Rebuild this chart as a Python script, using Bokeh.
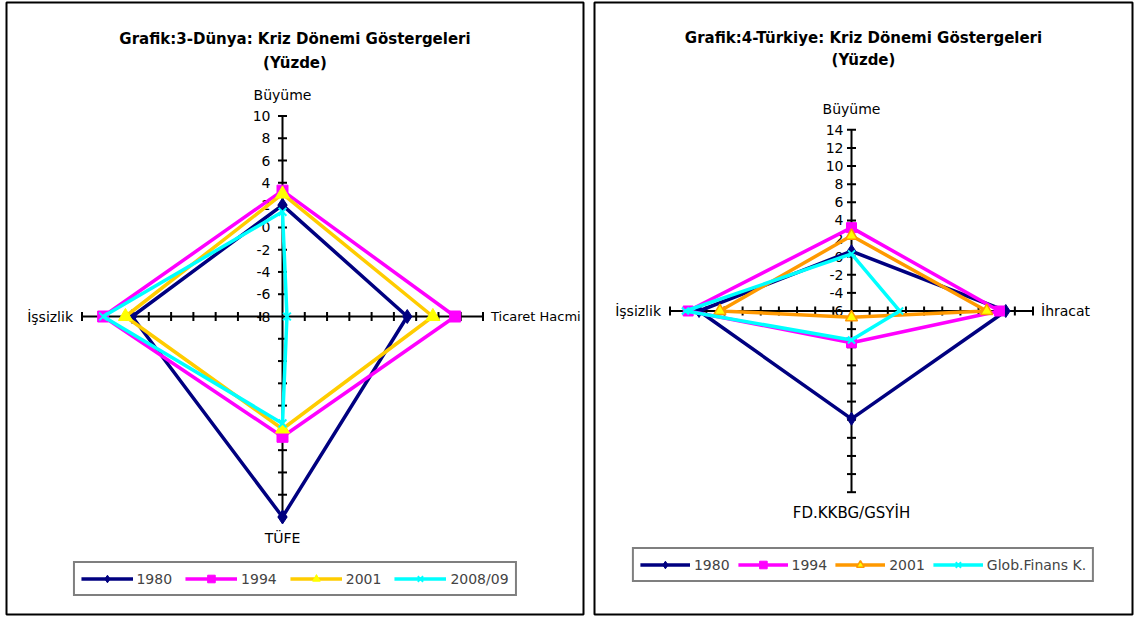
import math
from bokeh.plotting import figure
from bokeh.models import Range1d, Legend, LegendItem
from bokeh.layouts import row
from bokeh.embed import file_html
from bokeh.resources import INLINE
from bokeh.core.properties import value

FONT = "DejaVu Sans"

# ---------------- Grafik 3 : Dünya ----------------
world_title = ["Grafik:3-Dünya: Kriz Dönemi Göstergeleri", "(Yüzde)"]
world_axes = ["Büyüme", "Ticaret Hacmi", "TÜFE", "İşsizlik"]
world_names = ["1980", "1994", "2001", "2008/09"]
world_1980 = [2.0, 3.2, 10.0, 5.5]
world_1994 = [3.3, 7.5, 2.8, 8.1]
world_2001 = [3.0, 5.5, 2.1, 6.1]
world_2008 = [1.4, -7.6, 1.6, 8.1]
world_ticks = [-8, -6, -4, -2, 0, 2, 4, 6, 8, 10]

# ---------------- Grafik 4 : Türkiye ----------------
tr_title = ["Grafik:4-Türkiye: Kriz Dönemi Göstergeleri", "(Yüzde)"]
tr_axes = ["Büyüme", "İhracat", "FD.KKBG/GSYİH", "İşsizlik"]
tr_names = ["1980", "1994", "2001", "Glob.Finans K."]
tr_1980 = [0.6, 11.0, 5.9, 10.8]
tr_1994 = [3.2, 10.3, -2.5, 12.0]
tr_2001 = [2.3, 8.9, -5.3, 8.5]
tr_glob = [0.3, -0.7, -2.8, 12.3]
tr_ticks = [-6, -4, -2, 0, 2, 4, 6, 8, 10, 12, 14]

world_styles = [
    dict(color="#000080", marker="diamond", size=14, fill="#000080", mline="#000080", mw=1),
    dict(color="#FF00FF", marker="square", size=11, fill="#FF00FF", mline="#FF00FF", mw=1),
    dict(color="#FFCC00", marker="triangle", size=14, fill="#FFFF00", mline="#FFFF00", mw=1),
    dict(color="#00FFFF", marker="x", size=11, fill=None, mline="#00FFFF", mw=2),
]
tr_styles = [
    dict(color="#000080", marker="diamond", size=13, fill="#000080", mline="#000080", mw=1),
    dict(color="#FF00FF", marker="square", size=10, fill="#FF00FF", mline="#FF00FF", mw=1),
    dict(color="#FF9900", marker="triangle", size=12, fill="#FFFF00", mline="#FF9900", mw=1.5),
    dict(color="#00FFFF", marker="x", size=10, fill=None, mline="#00FFFF", mw=2),
]


def radar_panel(title_lines, title_ys, axes, names, series, styles, ticks,
                page_x0, fig_w, fig_h, geo, tick_xoff, label_sizes,
                legend_margin, glyph_w, leg_spacing):
    # geo: frame border (L, T, R, B) and centre (cx, cy) in page px, radius px
    L, T, R, B, cx, cy, rad = geo

    def px(X):
        return (X - cx) / rad

    def py(Y):
        return (cy - Y) / rad

    p = figure(width=fig_w, height=fig_h, title=None,
               min_border_left=L - page_x0, min_border_right=page_x0 + fig_w - R,
               min_border_top=T, min_border_bottom=fig_h - B,
               x_range=Range1d(px(L), px(R)), y_range=Range1d(py(B), py(T)),
               x_axis_location=None, y_axis_location=None,
               output_backend="svg", toolbar_location=None, tools="")
    p.grid.visible = False
    p.outline_line_color = "black"
    p.outline_line_width = 2
    p.background_fill_color = "white"
    p.border_fill_color = "white"

    vmin, vmax = ticks[0], ticks[-1]
    n = len(axes)
    angs = [2 * math.pi * k / n for k in range(n)]

    def norm(v):
        return (v - vmin) / (vmax - vmin)

    # spokes
    p.segment(x0=[0] * n, y0=[0] * n,
              x1=[math.sin(a) for a in angs], y1=[math.cos(a) for a in angs],
              line_color="black", line_width=2)
    # tick marks
    tx, ty, ta = [], [], []
    for k, a in enumerate(angs):
        for t in ticks[1:]:
            r = norm(t)
            tx.append(r * math.sin(a))
            ty.append(r * math.cos(a))
            ta.append(0 if k % 2 == 0 else math.pi / 2)
    p.scatter(tx, ty, marker="dash", size=9, angle=ta, line_color="black", line_width=2)

    # tick labels on first axis
    p.text(x=[0] * len(ticks), y=[norm(t) for t in ticks], text=[str(t) for t in ticks],
           x_offset=tick_xoff, text_align="right", text_baseline="middle",
           text_font=value(FONT), text_font_size="14px", text_color="black")

    # category labels
    placements = [dict(x_offset=0, y_offset=-21, text_align="center"),
                  dict(x_offset=8, y_offset=0, text_align="left"),
                  dict(x_offset=0, y_offset=21, text_align="center"),
                  dict(x_offset=-9, y_offset=0, text_align="right")]
    for k, a in enumerate(angs):
        pl = placements[k % 4]
        p.text(x=[math.sin(a)], y=[math.cos(a)], text=[axes[k]],
               x_offset=pl["x_offset"], y_offset=pl["y_offset"],
               text_align=pl["text_align"], text_baseline="middle",
               text_font=value(FONT), text_font_size=label_sizes[k], text_color="black")

    # series
    items = []
    for name, vals, st in zip(names, series, styles):
        xs = [norm(v) * math.sin(a) for v, a in zip(vals, angs)]
        ys = [norm(v) * math.cos(a) for v, a in zip(vals, angs)]
        lr = p.line(xs + [xs[0]], ys + [ys[0]], line_color=st["color"], line_width=3.5)
        sr = p.scatter(xs, ys, marker=st["marker"], size=st["size"],
                       fill_color=st["fill"], line_color=st["mline"], line_width=st["mw"])
        items.append(LegendItem(label=name, renderers=[lr, sr]))

    # title
    p.text(x=[px((L + R) / 2)] * len(title_lines), y=[py(y) for y in title_ys],
           text=title_lines, text_align="center", text_baseline="middle",
           text_font=value(FONT), text_font_size="15px", text_font_style="bold",
           text_color="black")

    leg = Legend(items=items, orientation="horizontal", location="bottom_center",
                 margin=legend_margin, glyph_width=glyph_w, glyph_height=19,
                 label_standoff=4, spacing=leg_spacing, padding=6,
                 label_text_font=FONT, label_text_font_size="14px",
                 label_height=19, border_line_color="black", border_line_width=2,
                 background_fill_color="white", background_fill_alpha=1.0)
    p.add_layout(leg, "center")
    return p


p1 = radar_panel(world_title, [38, 62], world_axes, world_names,
                 [world_1980, world_1994, world_2001, world_2008], world_styles,
                 world_ticks, 0, 588, 617, (6, 2, 583, 614, 282, 316, 200.5), -12,
                 ["14px", "13px", "14px", "14px"], 18, 52, 13)
p2 = radar_panel(tr_title, [38, 60], tr_axes, tr_names,
                 [tr_1980, tr_1994, tr_2001, tr_glob], tr_styles,
                 tr_ticks, 588, 546, 617, (594, 2, 1132, 615, 851, 311, 181.5), -8,
                 ["14px", "14px", "15px", "14px"], 32, 50, 8)

layout = row(p1, p2, spacing=0)

open("out.html", "w").write(file_html(layout, INLINE))
